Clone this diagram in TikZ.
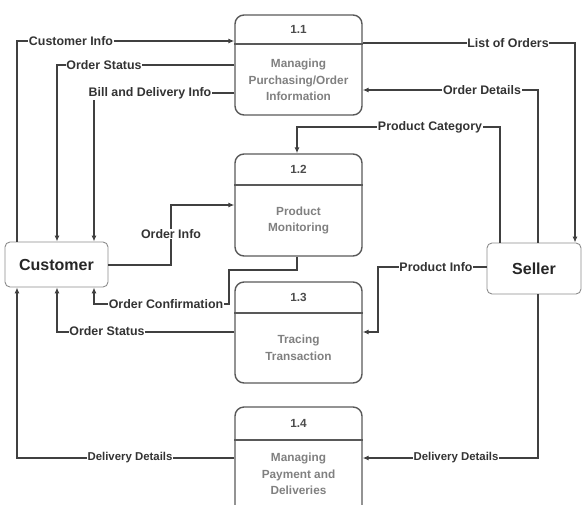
\documentclass[tikz,border=0pt]{standalone}
\usepackage{fontspec}
\setmainfont{Liberation Sans}
\usetikzlibrary{arrows.meta}
\begin{document}
\begin{tikzpicture}[x=1pt,y=-1pt,
  conn/.style={draw=black!75, line width=1.1pt},
  arr/.style={conn, -{Latex[length=6pt,width=5pt]}},
  lbl/.style={fill=white, inner sep=0.8pt, font=\bfseries\fontsize{12.4}{14}\selectfont, text=black!80},
  lbls/.style={lbl, font=\bfseries\fontsize{11.4}{13}\selectfont},
  procbox/.style={draw=black!65, line width=1.4pt, rounded corners=9pt, minimum width=127pt, inner sep=0pt},
  hline/.style={draw=black!65, line width=1.4pt},
  ptitle/.style={font=\bfseries\fontsize{11.8}{13}\selectfont, text=black!70},
  pbody/.style={font=\bfseries\fontsize{11.8}{16.5}\selectfont, text=black!50, align=center},
  ext/.style={draw=black!45, line width=0.9pt, rounded corners=5pt, inner sep=0pt, font=\bfseries\fontsize{16}{18}\selectfont, text=black!85},
]
\useasboundingbox (0,0) rectangle (583,504);
\clip (0,0) rectangle (583,504);

% process boxes
\node[procbox, minimum height=100pt] (p1) at (298.5,65) {};
\draw[hline] (p1.west |- 0,44) -- (p1.east |- 0,44);
\node[ptitle] (t1) at (298.5,29.5) {1.1};
\node[pbody] (b1) at (298.5,80) {Managing\\Purchasing/Order\\Information};

\node[procbox, minimum height=102pt] (p2) at (298.5,205) {};
\draw[hline] (p2.west |- 0,185) -- (p2.east |- 0,185);
\node[ptitle] (t2) at (298.5,169.5) {1.2};
\node[pbody] (b2) at (298.5,220.5) {Product\\Monitoring};

\node[procbox, minimum height=101pt] (p3) at (298.5,332.5) {};
\draw[hline] (p3.west |- 0,313) -- (p3.east |- 0,313);
\node[ptitle] (t3) at (298.5,297.5) {1.3};
\node[pbody] (b3) at (298.5,348) {Tracing\\Transaction};

\node[procbox, minimum height=116pt] (p4) at (298.5,465) {};
\draw[hline] (p4.west |- 0,440) -- (p4.east |- 0,440);
\node[ptitle] (t4) at (298.5,423.5) {1.4};
\node[pbody] (b4) at (298.5,474) {Managing\\Payment and\\Deliveries};

% external entities
\node[ext, minimum width=103pt, minimum height=45pt] (cust) at (56.5,264.5) {Customer};
\node[ext, minimum width=94pt, minimum height=51pt] (seller) at (534,268.5) {Seller};

% connectors
\draw[arr] (17,0 |- cust.north) |- (p1.west |- 0,41);
\draw[arr] (p1.west |- 0,65) -| (57,0 |- cust.north);
\draw[arr] (p1.west |- 0,93) -| (94,0 |- cust.north);
\draw[arr] (p1.east |- 0,43) -| (575,0 |- seller.north);
\draw[arr] (538,0 |- seller.north) |- (p1.east |- 0,90);
\draw[arr] (500,0 |- seller.north) |- (297,127) -- (297,0 |- p2.north);
\draw[arr] (cust.east |- 0,265) -| (171,205) -- (p2.west |- 0,205);
\draw[arr] (297,0 |- p2.south) |- (229,270) |- (94,304) -- (94,0 |- cust.south);
\draw[arr] (p3.west |- 0,332) -| (57,0 |- cust.south);
\draw[arr] (seller.west |- 0,267) -| (378,332) -- (p3.east |- 0,332);
\draw[arr] (p4.west |- 0,458) -| (17,0 |- cust.south);
\draw[arr] (538,0 |- seller.south) |- (p4.east |- 0,458);

% labels
\node[lbl] (l1) at (71,41) {Customer Info};
\node[lbl] (l2) at (104,65) {Order Status};
\node[lbl] (l3) at (150,93) {Bill and Delivery Info};
\node[lbl] (l4) at (508,43) {List of Orders};
\node[lbl] (l5) at (482,90) {Order Details};
\node[lbl] (l6) at (430,127) {Product Category};
\node[lbl] (l7) at (171,234) {Order Info};
\node[lbl] (l8) at (166,304) {Order Confirmation};
\node[lbl] (l9) at (107,331) {Order Status};
\node[lbl] (l10) at (436,267) {Product Info};
\node[lbls] (l11) at (130,458) {Delivery Details};
\node[lbls] (l12) at (456,458) {Delivery Details};
\end{tikzpicture}
\end{document}
